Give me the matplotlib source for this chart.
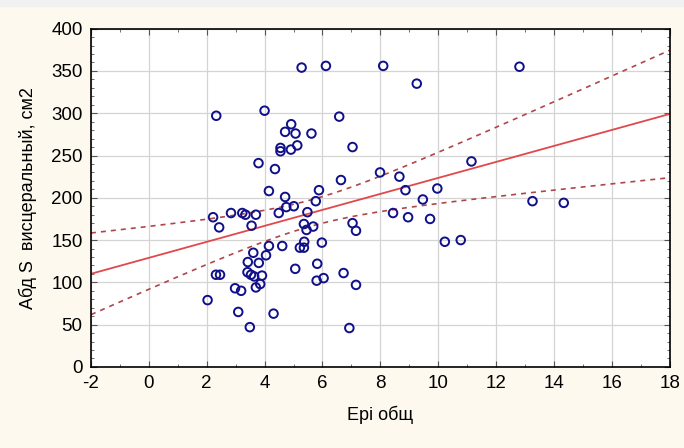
import matplotlib
matplotlib.use("Agg")
import matplotlib.pyplot as plt
from matplotlib.ticker import MultipleLocator
from matplotlib.patches import Rectangle
import numpy as np

# Epi общ
epi = [5.28, 6.12, 2.33, 4.00, 6.58, 4.92, 4.71, 5.07, 5.62, 5.13,
       4.55, 4.55, 4.91, 7.04, 3.79, 4.36, 6.64, 4.15, 5.88, 4.71,
       4.75, 5.01, 5.77, 4.49, 5.48, 2.22, 2.84, 3.23, 3.34, 3.70,
       2.43, 3.55, 5.36, 5.45, 5.68, 5.37, 5.22, 5.36, 5.98, 4.15,
       4.61, 4.05, 3.61, 3.42, 3.80, 3.41, 3.53, 3.64, 3.91, 2.32,
       2.46, 3.85, 3.70, 2.98, 3.19, 5.06, 5.82, 5.80, 6.04, 6.73,
       7.16, 7.04, 7.16, 2.03, 3.09, 4.31, 3.49, 6.93, 8.10, 9.26,
       12.81, 11.15, 7.99, 8.66, 8.87, 9.97, 9.47, 8.44, 8.96, 9.72,
       13.26, 10.23, 10.78, 14.34]
# Абд S висцеральный
abd = [354, 356, 297, 303, 296, 287, 278, 276, 276, 262,
       259, 255, 257, 260, 241, 234, 221, 208, 209, 201,
       189, 190, 196, 182, 183, 177, 182, 182, 180, 180,
       165, 167, 169, 162, 166, 148, 141, 141, 147, 143,
       143, 132, 135, 124, 123, 112, 109, 107, 108, 109,
       109, 98, 94, 93, 90, 116, 122, 102, 105, 111,
       97, 170, 161, 79, 65, 63, 47, 46, 356, 335,
       355, 243, 230, 225, 209, 211, 198, 182, 177, 175,
       196, 148, 150, 194]

# regression line
fit_intercept = 129.0
fit_slope = 9.45

xticks = [-2, 0, 2, 4, 6, 8, 10, 12, 14, 16, 18]
yticks = [0, 50, 100, 150, 200, 250, 300, 350, 400]

plt.rcParams['font.family'] = ['Liberation Sans Narrow', 'Liberation Sans', 'DejaVu Sans']
plt.rcParams['axes.unicode_minus'] = False

x = np.array(epi, dtype=float)
y = np.array(abd, dtype=float)
n = len(x)
resid = y - (fit_intercept + fit_slope * x)
s = np.sqrt(np.sum(resid ** 2) / (n - 2))
sxx = np.sum((x - x.mean()) ** 2)
t = 1.989  # t(0.975, ~82 df)

xs = np.linspace(-2, 18, 200)
fit = fit_intercept + fit_slope * xs
half = t * s * np.sqrt(1.0 / n + (xs - x.mean()) ** 2 / sxx)

fig = plt.figure(figsize=(6.84, 4.48), dpi=100, facecolor='#fdf9ee')
fig.patches.append(Rectangle((0, 0.986), 1, 0.014, transform=fig.transFigure,
                             color='#f1f1f1', zorder=0))
ax = fig.add_axes([0.133, 0.181, 0.846, 0.755])
ax.set_facecolor('white')

ax.plot(xs, fit, color='#e0484b', lw=1.3, zorder=2)
ax.plot(xs, fit + half, color='#b0464a', lw=1.2, ls=(0, (3, 3)), zorder=2)
ax.plot(xs, fit - half, color='#b0464a', lw=1.2, ls=(0, (3, 3)), zorder=2)
ax.scatter(x, y, s=38, facecolors='none', edgecolors='#10108a', linewidths=1.4, zorder=3)

ax.set_xlim(-2, 18)
ax.set_ylim(0, 400)
ax.set_xticks(xticks)
ax.set_yticks(yticks)
ax.xaxis.set_minor_locator(MultipleLocator(1))
ax.yaxis.set_minor_locator(MultipleLocator(10))
ax.grid(True, which='major', color='#d4d4d4', lw=0.9)
ax.set_axisbelow(True)
ax.tick_params(which='both', direction='in', top=True, right=True, labelsize=13.5,
               color='#555555')
ax.tick_params(which='major', length=4, pad=6)
ax.tick_params(which='minor', length=2.5)
for sp in ax.spines.values():
    sp.set_color('black')
    sp.set_linewidth(1.2)

ax.set_xlabel('Epi общ', fontsize=13, labelpad=10)
ax.set_ylabel('Абд S  висцеральный, см2', fontsize=13, labelpad=10)

fig.savefig('out.png', dpi=100, facecolor=fig.get_facecolor())
